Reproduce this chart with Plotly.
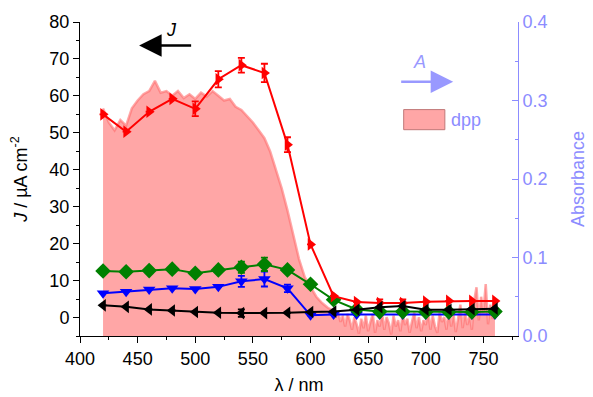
import plotly.graph_objects as go

# ---- data ----
lam = [420, 440, 460, 480, 500, 520, 540, 560, 580, 600, 620, 640, 660, 680, 700, 720, 740, 760]
j_red = [55.0, 50.3, 55.7, 59.2, 56.5, 64.5, 68.3, 66.2, 46.8, 19.8, 5.8, 4.2, 3.9, 3.9, 4.3, 4.5, 4.5, 4.5]
j_red_err = [0, 0, 0, 0, 2.0, 2.2, 2.0, 2.5, 2.0, 0, 0, 0, 1.0, 1.0, 0, 0, 0, 0]
j_green = [12.6, 12.4, 12.7, 13.1, 12.0, 12.9, 13.6, 14.4, 12.9, 9.0, 4.8, 2.2, 1.6, 1.6, 1.5, 1.5, 1.5, 1.6]
j_green_err = [0, 0, 0, 0, 0, 0, 1.5, 1.8, 0, 0, 0, 0, 0, 0, 0, 0, 0, 0]
j_blue = [6.6, 7.0, 7.6, 7.9, 7.7, 8.3, 9.8, 10.4, 7.9, 0.6, 0.8, 0.8, 0.8, 0.8, 0.8, 0.8, 0.8, 0.8]
j_blue_err = [0, 0, 0, 0, 0, 0, 1.5, 2.0, 1.0, 0, 0, 0, 0, 0, 0, 0, 0, 0]
j_black = [3.3, 2.9, 2.2, 1.9, 1.5, 1.3, 1.2, 1.2, 1.3, 1.5, 1.6, 2.1, 2.8, 3.1, 2.1, 2.1, 2.3, 2.4]
j_black_err = [0, 0, 0, 0, 0, 0, 1.0, 0, 0, 0, 0, 0, 0, 0, 0, 0, 0, 0]

abs_wl_a = list(range(420, 620, 5))
abs_a = [0.290, 0.272, 0.262, 0.275, 0.268, 0.290, 0.300, 0.308, 0.312, 0.325,
         0.310, 0.312, 0.306, 0.312, 0.303, 0.308, 0.302, 0.310, 0.305, 0.312,
         0.306, 0.300, 0.302, 0.292, 0.288, 0.280, 0.272, 0.262, 0.252, 0.235,
         0.212, 0.188, 0.160, 0.128, 0.098, 0.075, 0.062, 0.050, 0.042, 0.036]
abs_wl_b = list(range(620, 761, 2))
abs_b = [0.032, 0.025, 0.030, 0.018, 0.026, 0.012, 0.028, 0.020, 0.008, 0.024,
         0.015, 0.003, 0.022, 0.010, 0.026, 0.006, 0.018, 0.028, 0.004, 0.020,
         0.012, 0.030, 0.008, 0.024, 0.016, 0.002, 0.026, 0.012, 0.020, 0.006,
         0.028, 0.014, 0.022, 0.004, 0.018, 0.030, 0.010, 0.024, 0.006, 0.020,
         0.014, 0.032, 0.008, 0.026, 0.012, 0.004, 0.030, 0.018, 0.024, 0.008,
         0.034, 0.012, 0.028, 0.005, 0.022, 0.040, 0.010, 0.030, 0.014, 0.026,
         0.008, 0.045, 0.062, 0.020, 0.050, 0.030, 0.066, 0.015, 0.040, 0.022,
         0.028]
abs_wl = abs_wl_a + abs_wl_b
absorb = abs_a + abs_b
assert len(abs_wl) == len(absorb)

FONT = "Liberation Sans, Arial, sans-serif"
ABS_COL = "#8C8CFF"
FS = 18

fig = go.Figure()

# absorbance (primary y, right side, drawn underneath)
fig.add_trace(go.Scatter(
    x=abs_wl, y=absorb, mode="lines", fill="tozeroy",
    fillcolor="#FFA6A6", line=dict(color="rgba(255,110,110,0.6)", width=2.5),
    yaxis="y", showlegend=False, hoverinfo="skip"))

def jtrace(y, err, color, symbol, size=11):
    return go.Scatter(
        x=lam, y=y, mode="lines+markers", yaxis="y2",
        line=dict(color=color, width=2),
        marker=dict(color=color, symbol=symbol, size=size, line=dict(width=0)),
        error_y=dict(type="data", array=err, visible=True, color=color,
                     thickness=1.8, width=3.5),
        showlegend=False)

fig.add_trace(jtrace(j_blue, j_blue_err, "#0000FF", "triangle-down"))
fig.add_trace(jtrace(j_green, j_green_err, "#008000", "diamond", 12))
fig.add_trace(jtrace(j_red, j_red_err, "#FF0000", "triangle-right"))
fig.add_trace(jtrace(j_black, j_black_err, "#000000", "triangle-left"))

# page has an 8px body margin, so the figure is 8px smaller and margins shifted
fig.update_layout(
    width=585, height=389,
    margin=dict(l=72, r=75, t=14, b=61, autoexpand=False),
    paper_bgcolor="white", plot_bgcolor="white",
    font=dict(family=FONT, size=FS, color="black"),
    xaxis=dict(
        range=[400, 780], tick0=400, dtick=50, automargin=False,
        ticks="outside", ticklen=6, tickcolor="black",
        showline=True, linecolor="black", linewidth=1,
        showgrid=False, zeroline=False,
        minor=dict(dtick=25, ticks="outside", ticklen=3, tickcolor="black"),
        title=dict(text="λ / nm", font=dict(size=FS), standoff=10),
        tickfont=dict(size=FS),
    ),
    yaxis=dict(
        side="right", range=[0, 0.4], dtick=0.1, tickformat=".1f", automargin=False,
        ticks="inside", ticklen=6, tickcolor=ABS_COL,
        showline=True, linecolor=ABS_COL, linewidth=1,
        showgrid=False, zeroline=False,
        minor=dict(dtick=0.05, ticks="inside", ticklen=3, tickcolor=ABS_COL),
        tickfont=dict(size=FS, color=ABS_COL),
        title=dict(text="Absorbance", font=dict(size=FS, color=ABS_COL), standoff=24),
    ),
    yaxis2=dict(
        side="left", overlaying="y", range=[-5, 80], tick0=0, dtick=10, automargin=False,
        ticks="outside", ticklen=6, tickcolor="black",
        showline=True, linecolor="black", linewidth=1,
        showgrid=False, zeroline=False,
        minor=dict(dtick=5, ticks="outside", ticklen=3, tickcolor="black"),
        tickfont=dict(size=FS),
        title=dict(text="<i>J</i> / µA cm<sup>-2</sup>", font=dict(size=FS), standoff=17),
    ),
    showlegend=False,
)

# direction arrows
fig.add_annotation(xref="paper", yref="paper", x=0.135, y=0.925, ax=56, ay=0,
                   showarrow=True, arrowhead=2, arrowsize=1.8, arrowwidth=2.5,
                   arrowcolor="black", text=" ")
fig.add_annotation(xref="paper", yref="paper", x=0.209, y=0.976,
                   xanchor="center", yanchor="middle", showarrow=False,
                   text="<i>J</i>", font=dict(size=FS, color="black"))
fig.add_annotation(xref="paper", yref="paper", x=0.852, y=0.810, ax=-56, ay=0,
                   showarrow=True, arrowhead=2, arrowsize=1.8, arrowwidth=2.5,
                   arrowcolor="#9999FF", text=" ")
fig.add_annotation(xref="paper", yref="paper", x=0.776, y=0.874,
                   xanchor="center", yanchor="middle", showarrow=False,
                   text="<i>A</i>", font=dict(size=FS, color="#9999FF"))

# legend swatch
fig.add_shape(type="rect", xref="paper", yref="paper",
              x0=0.739, x1=0.833, y0=0.657, y1=0.721,
              fillcolor="#FFA6A6", line=dict(color="#C07878", width=1))
fig.add_annotation(xref="paper", yref="paper", x=0.843, y=0.689,
                   xanchor="left", yanchor="middle",
                   showarrow=False, text="dpp", font=dict(size=FS, color=ABS_COL))

fig.write_html("out.html")
